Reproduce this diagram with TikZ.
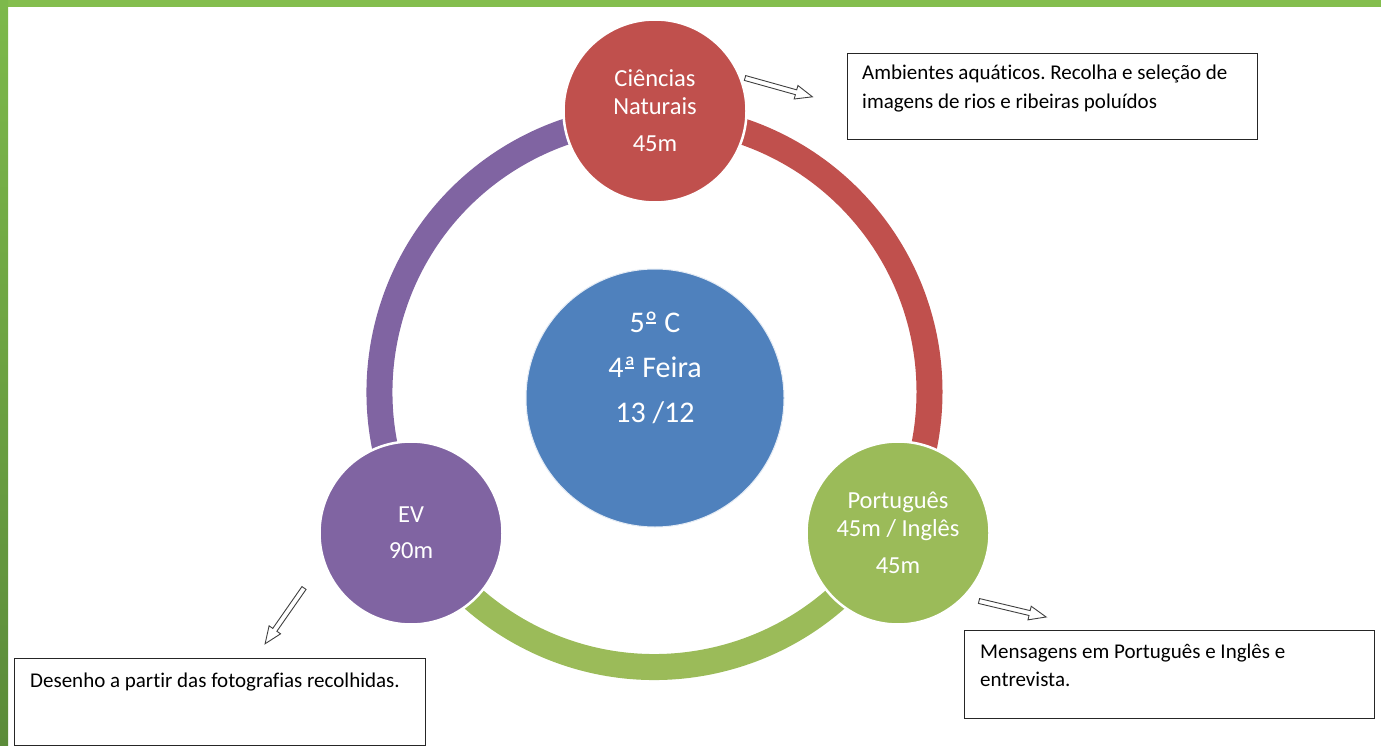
\documentclass[tikz,border=0pt]{standalone}
\usepackage{fontspec}
\setmainfont{Carlito}[Ligatures=NoCommon]
\frenchspacing
\newcommand\ordline[1]{\setbox0\hbox{#1}\rlap{#1}\hspace*{0.12\wd0}\rule[0.30em]{0.76\wd0}{0.055em}\hspace*{0.12\wd0}}
\definecolor{cred}{HTML}{C0504D}
\definecolor{cgreen}{HTML}{9BBB59}
\definecolor{cpurple}{HTML}{8064A2}
\definecolor{cblue}{HTML}{4F81BD}
\definecolor{bartop}{HTML}{84BE4E}
\definecolor{barleftA}{HTML}{7DB94B}
\definecolor{barleftB}{HTML}{5B8B39}
\definecolor{arrowline}{HTML}{404040}
\begin{document}
\begin{tikzpicture}[x=1pt,y=-1pt,
  ringarc/.style={line width=26pt},
  bigcirc/.style={circle, draw=white, line width=2.5pt, minimum size=183pt, inner sep=0pt,
    text=white, align=center, font=\fontsize{24.5}{27.5}\selectfont},
  notebox/.style={draw=black!85, line width=1.1pt, anchor=north west, inner sep=0pt},
  notetext/.style={anchor=base west, inner sep=0pt, text width=400pt,
    font=\fontsize{21}{28.5}\selectfont, text=black,
    execute at begin node={\spaceskip=0.226em\relax\xspaceskip=0.226em\relax}},
  blockarrow/.style={draw=arrowline, line width=0.9pt, fill=white, line join=miter}
]
\useasboundingbox (0,0) rectangle (1381,746);
\fill[white] (0,0) rectangle (1381,746);
% frame bars
\fill[bartop] (0,0) rectangle (1381,7);
\shade[top color=barleftA, bottom color=barleftB] (0,0) rectangle (8,746);

% ring
\coordinate (ring) at (654.5,392);
\draw[ringarc, cred] ([shift={(-90:275)}]ring) arc[start angle=-90, end angle=30, radius=275];
\draw[ringarc, cgreen] ([shift={(30:275)}]ring) arc[start angle=30, end angle=150, radius=275];
\draw[ringarc, cpurple] ([shift={(150:275)}]ring) arc[start angle=150, end angle=270, radius=275];

% circles
\node[bigcirc, fill=cred] (cn) at (655,111) {Ciências\\Naturais\\[10pt]45m};
\node[bigcirc, fill=cgreen] (pt) at (898,533) {Português\\45m / Inglês\\[10pt]45m};
\node[bigcirc, fill=cpurple] (ev) at (411,533) {EV\\[8.5pt]90m};
\node[circle, fill=cblue, draw=white!85!cblue, line width=1pt, minimum size=258pt, inner sep=0pt] (center) at (655,398) {};
\node[text=white, align=center, font=\fontsize{30}{45}\selectfont, inner sep=0pt] (centertext) at (655,368) {5\ordline{º} C\\4\ordline{ª} Feira\\13 /12};

% notes
\node[notebox, minimum width=410pt, minimum height=86pt] (box1) at (847,53) {};
\node[notetext] (text1) at (862,80) {Ambientes aquáticos. Recolha e seleção de\\imagens de rios e ribeiras poluídos};
\node[notebox, minimum width=410pt, minimum height=88pt] (box2) at (964,630) {};
\node[notetext] (text2) at (980,658) {Mensagens em Português e Inglês e\\entrevista.};
\node[notebox, minimum width=411pt, minimum height=87pt] (box3) at (14,658) {};
\node[notetext] (text3) at (30,687) {Desenho a partir das fotografias recolhidas.};

% block arrows
\coordinate (a1) at (745,78);
\coordinate (a2) at (979,601);
\coordinate (a3) at (304,588);
\draw[blockarrow, shift={(a1)}, rotate=-15.6]
  (0,-2.5) -- (53,-2.5) -- (53,-7) -- (70,0) -- (53,7) -- (53,2.5) -- (0,2.5) -- cycle;
\draw[blockarrow, shift={(a2)}, rotate=-13.4]
  (0,-2.5) -- (52,-2.5) -- (52,-7) -- (69,0) -- (52,7) -- (52,2.5) -- (0,2.5) -- cycle;
\draw[blockarrow, shift={(a3)}, rotate=235.1]
  (0,-2.5) -- (51,-2.5) -- (51,-7) -- (68,0) -- (51,7) -- (51,2.5) -- (0,2.5) -- cycle;
\end{tikzpicture}
\end{document}
